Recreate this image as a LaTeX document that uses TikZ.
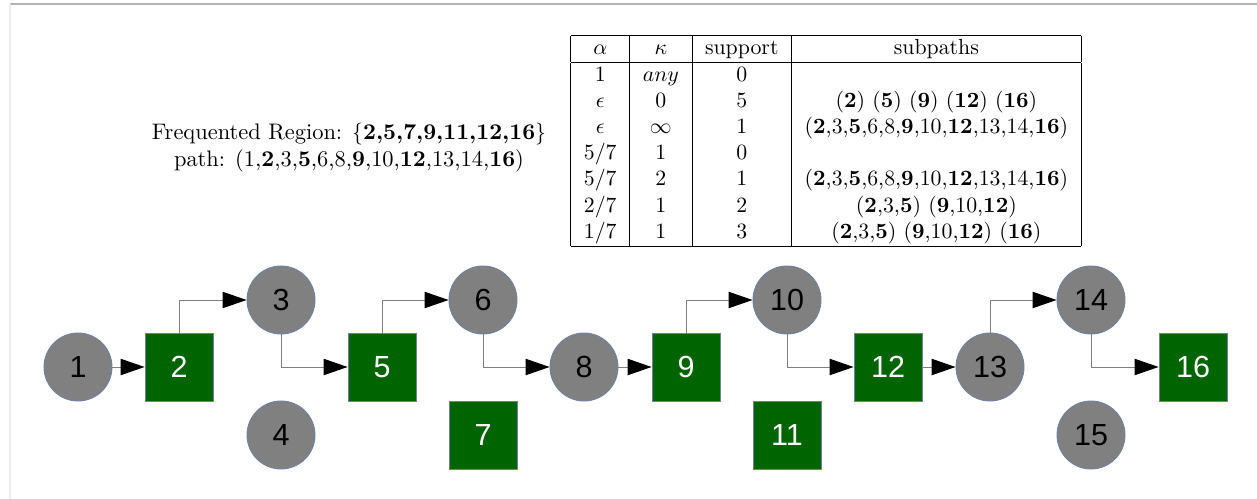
\documentclass[tikz,border=0pt]{standalone}
\usepackage{fontspec}
\newfontfamily\graphfont{Liberation Sans}
\usetikzlibrary{arrows.meta}
\definecolor{vertexgray}{RGB}{128,128,128}
\definecolor{regiongreen}{RGB}{0,100,0}
\definecolor{rim}{RGB}{110,130,165}

\begin{document}
\begin{tikzpicture}[x=0.4587pt,y=-0.4587pt,
  vertex/.style={circle,fill=vertexgray,draw=rim,line width=0.4pt,minimum size=31.2pt,inner sep=0pt,
    font=\graphfont\fontsize{14}{16}\selectfont},
  region/.style={rectangle,fill=regiongreen,draw=rim,line width=0.4pt,minimum size=31.2pt,inner sep=0pt,
    text=white,font=\graphfont\fontsize{14}{16}\selectfont},
  link/.style={draw=gray,line width=0.45pt,-{Triangle[length=11pt,width=7.5pt,black]}}]
\useasboundingbox (0,0) rectangle (1257,499);

% frame
\draw[gray!60,line width=0.6pt] (10,4) -- (1257,4);
\draw[gray!15,line width=0.6pt] (10,4) -- (10,499);

% caption and table
\node[align=center,font=\fontsize{10.3}{12.4}\selectfont] (caption) at (349,148) {Frequented Region: $\{$\textbf{2,5,7,9,11,12,16}$\}$\\
  path: (1,\textbf{2},3,\textbf{5},6,8,\textbf{9},10,\textbf{12},13,14,\textbf{16})};

\node[inner sep=0pt] (table) at (826,141) {%
\begin{tabular}{|c|c|c|c|}
\hline
$\alpha$ & $\kappa$ & support & subpaths\\
\hline
1 & $any$ & 0 & \\
$\epsilon$ & 0 & 5 & (\textbf{2}) (\textbf{5}) (\textbf{9}) (\textbf{12}) (\textbf{16})\\
$\epsilon$ & $\infty$ & 1 & (\textbf{2},3,\textbf{5},6,8,\textbf{9},10,\textbf{12},13,14,\textbf{16})\\
5/7 & 1 & 0 & \\
5/7 & 2 & 1 & (\textbf{2},3,\textbf{5},6,8,\textbf{9},10,\textbf{12},13,14,\textbf{16})\\
2/7 & 1 & 2 & (\textbf{2},3,\textbf{5}) (\textbf{9},10,\textbf{12})\\
1/7 & 1 & 3 & (\textbf{2},3,\textbf{5}) (\textbf{9},10,\textbf{12}) (\textbf{16})\\
\hline
\end{tabular}};

% graph
\node[vertex] (n1) at (78,367) {1};
\node[region] (n2) at (179,367) {2};
\node[vertex] (n3) at (281,300) {3};
\node[vertex] (n4) at (281,435) {4};
\node[region] (n5) at (382,367) {5};
\node[vertex] (n6) at (483,300) {6};
\node[region] (n7) at (483,435) {7};
\node[vertex] (n8) at (584,367) {8};
\node[region] (n9) at (686,367) {9};
\node[vertex] (n10) at (787,300) {10};
\node[region] (n11) at (787,435) {11};
\node[region] (n12) at (888,367) {12};
\node[vertex] (n13) at (990,367) {13};
\node[vertex] (n14) at (1091,300) {14};
\node[vertex] (n15) at (1091,435) {15};
\node[region] (n16) at (1193,367) {16};

\draw[link] (n1) -- (n2);
\draw[link] (n2) |- (n3);
\draw[link] (n3) |- (n5);
\draw[link] (n5) |- (n6);
\draw[link] (n6) |- (n8);
\draw[link] (n8) -- (n9);
\draw[link] (n9) |- (n10);
\draw[link] (n10) |- (n12);
\draw[link] (n12) -- (n13);
\draw[link] (n13) |- (n14);
\draw[link] (n14) |- (n16);

\end{tikzpicture}
\end{document}
